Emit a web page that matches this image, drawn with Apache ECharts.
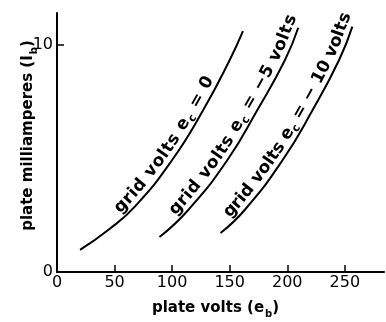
<!DOCTYPE html>
<html>
<head>
<meta charset="utf-8">
<script src="https://cdn.jsdelivr.net/npm/echarts@6/dist/echarts.min.js"></script>
<style>
  html, body { margin: 0; padding: 0; background: #fff; }
  #chart { width: 386px; height: 322px; }
</style>
</head>
<body>
<div id="chart"></div>
<script>
// plate volts (e_b) and plate milliamperes (I_b)
var volts0 = [20, 45, 68, 100, 127, 150, 161.5];
var amps0 = [0.97, 1.87, 2.9, 4.93, 7.13, 9.33, 10.6];
var volts5 = [89, 114, 148, 174, 198, 209.5];
var amps5 = [1.54, 2.73, 4.93, 7.13, 9.33, 10.75];
var volts10 = [142, 163, 196, 222, 245, 256.5];
var amps10 = [1.72, 2.73, 4.93, 7.13, 9.33, 10.8];
var xTicks = [0, 50, 100, 150, 200, 250];
var yTicks = [0, 10];
// label text per curve, the "c" is a subscript
var curveLabels = [
  ['grid volts e', 'c', ' = 0'],
  ['grid volts e', 'c', ' = \u22125 volts'],
  ['grid volts e', 'c', ' = \u2212 10 volts']
];
// where each label starts along its curve (px) and its extra letter spacing
var labelStart = [54, 26, 17];
var labelTrack = [0.8, 0.7, 0.1];

var FONT = 'DejaVu Sans';
var chart = echarts.init(document.getElementById('chart'));

function pairs(v, a) {
  return v.map(function (x, i) { return [x, a[i]]; });
}

var curves = [pairs(volts0, amps0), pairs(volts5, amps5), pairs(volts10, amps10)];

var rich = {
  n: { fontFamily: FONT, fontWeight: 'bold', fontSize: 15, color: '#000', lineHeight: 17, verticalAlign: 'top' },
  s: { fontFamily: FONT, fontWeight: 'bold', fontSize: 10, color: '#000', lineHeight: 10, padding: [8, 0, 0, 1], verticalAlign: 'top' }
};

chart.setOption({
  animation: false,
  grid: { left: 57, right: 2, top: 13, bottom: 50, outerBoundsMode: 'none', containLabel: false },
  xAxis: {
    type: 'value', min: 0, max: 284, interval: 50,
    axisLine: { lineStyle: { color: '#000', width: 2 } },
    axisTick: { inside: true, length: 7, customValues: xTicks, lineStyle: { color: '#000', width: 1.5 } },
    axisLabel: { customValues: xTicks, color: '#000', fontFamily: FONT, fontSize: 16, margin: 3 },
    splitLine: { show: false },
    name: '{n|plate volts (e}{s|b}{n|)}',
    nameLocation: 'middle', nameGap: 29, nameMoveOverlap: false,
    nameTextStyle: { rich: rich, padding: [0, 10, 0, 0] }
  },
  yAxis: {
    type: 'value', min: 0, max: 11.4, interval: 10,
    axisLine: { lineStyle: { color: '#000', width: 2 } },
    axisTick: { inside: true, length: 7, customValues: yTicks, lineStyle: { color: '#000', width: 1.5 } },
    axisLabel: { customValues: yTicks, color: '#000', fontFamily: FONT, fontSize: 16, margin: 4 },
    splitLine: { show: false },
    name: '{n|plate milliamperes (I}{s|b}{n|)}',
    nameLocation: 'middle', nameGap: 19, nameMoveOverlap: false,
    nameTextStyle: { rich: rich, padding: [0, 0, 0, 14] }
  },
  series: curves.map(function (d) {
    return {
      type: 'line', data: d, smooth: 0.5, symbol: 'none',
      lineStyle: { color: '#000', width: 2 }
    };
  })
});

// labels follow their curves, one glyph at a time
var ctx = document.createElement('canvas').getContext('2d');
function glyphWidth(ch, size) {
  ctx.font = 'bold ' + size + 'px "' + FONT + '"';
  return ctx.measureText(ch).width;
}

function densify(pts) {
  var out = [];
  for (var i = 0; i < pts.length - 1; i++) {
    var p0 = pts[Math.max(i - 1, 0)], p1 = pts[i], p2 = pts[i + 1], p3 = pts[Math.min(i + 2, pts.length - 1)];
    for (var k = 0; k < 20; k++) {
      var t = k / 20, t2 = t * t, t3 = t2 * t;
      out.push([0, 1].map(function (j) {
        return 0.5 * (2 * p1[j] + (-p0[j] + p2[j]) * t + (2 * p0[j] - 5 * p1[j] + 4 * p2[j] - p3[j]) * t2 + (-p0[j] + 3 * p1[j] - 3 * p2[j] + p3[j]) * t3);
      }));
    }
  }
  out.push(pts[pts.length - 1]);
  return out;
}

function walk(path, s) {
  var acc = 0;
  for (var i = 0; i < path.length - 1; i++) {
    var dx = path[i + 1][0] - path[i][0], dy = path[i + 1][1] - path[i][1];
    var len = Math.sqrt(dx * dx + dy * dy);
    if (acc + len >= s || i === path.length - 2) {
      var f = (s - acc) / len;
      return { x: path[i][0] + dx * f, y: path[i][1] + dy * f, tx: dx / len, ty: dy / len };
    }
    acc += len;
  }
}

var SIZE = 17, OFF = 10;
var elements = [];
curves.forEach(function (d, ci) {
  var path = densify(d.map(function (p) { return chart.convertToPixel({ gridIndex: 0 }, p); }));
  var s = labelStart[ci];
  curveLabels[ci].forEach(function (part, pi) {
    var sub = pi === 1;
    var size = sub ? 11 : SIZE;
    var off = sub ? OFF - 5 : OFF;
    part.split('').forEach(function (ch) {
      var w = glyphWidth(ch, size) + labelTrack[ci];
      var p = walk(path, s + w / 2);
      var nx = p.ty, ny = -p.tx;
      elements.push({
        type: 'text',
        x: p.x + nx * off, y: p.y + ny * off,
        rotation: Math.atan2(-p.ty, p.tx),
        style: {
          text: ch, fill: '#000', fontFamily: FONT, fontWeight: 'bold', fontSize: size,
          align: 'center', verticalAlign: 'middle'
        }
      });
      s += w;
    });
  });
});
chart.setOption({ graphic: elements });
</script>
</body>
</html>
